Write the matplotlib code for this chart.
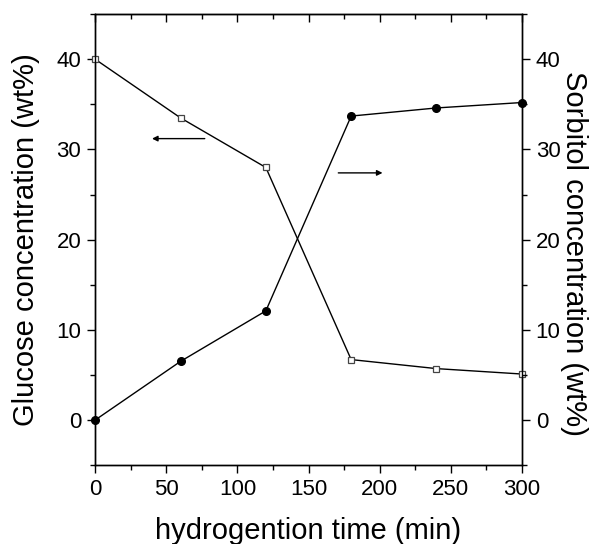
import matplotlib
matplotlib.use("Agg")
import matplotlib.pyplot as plt
from matplotlib.ticker import MultipleLocator

plt.rcParams["font.family"] = ["Liberation Sans", "DejaVu Sans"]

# ── Data ────────────────────────────────────────────────────
time_min = [0, 60, 120, 180, 240, 300]
glucose = [40.0, 33.5, 28.0, 6.7, 5.7, 5.1]
sorbitol = [0.0, 6.5, 12.1, 33.7, 34.6, 35.2]

fig = plt.figure(figsize=(5.95, 5.44), dpi=100)
ax1 = fig.add_axes([0.16, 0.145, 0.717, 0.829])
ax2 = ax1.twinx()

ax1.plot(time_min, glucose, "-", color="black", linewidth=1,
         marker="s", markersize=5, markerfacecolor="white",
         markeredgecolor="#444", markeredgewidth=0.9, clip_on=False, zorder=3)
ax2.plot(time_min, sorbitol, "-", color="black", linewidth=1,
         marker="o", markersize=5.5, markerfacecolor="black", clip_on=False, zorder=3)

for ax in (ax1, ax2):
    ax.set_xlim(0, 300)
    ax.set_ylim(-5, 45)
    ax.yaxis.set_major_locator(MultipleLocator(10))
    ax.yaxis.set_minor_locator(MultipleLocator(5))
ax1.xaxis.set_major_locator(MultipleLocator(50))
ax1.xaxis.set_minor_locator(MultipleLocator(25))
ax1.set_yticks([0, 10, 20, 30, 40])
ax2.set_yticks([0, 10, 20, 30, 40])

# left/bottom/right ticks outward, top ticks inward (Origin style)
ax1.tick_params(axis="both", which="major", direction="out", length=6, width=1,
                labelsize=16, pad=4)
ax1.tick_params(axis="both", which="minor", direction="out", length=3.5, width=1)
top = ax1.secondary_xaxis("top")
top.xaxis.set_major_locator(MultipleLocator(50))
top.xaxis.set_minor_locator(MultipleLocator(25))
top.tick_params(which="major", direction="in", length=6, width=1, labeltop=False)
top.tick_params(which="minor", direction="in", length=3.5, width=1)
ax2.tick_params(axis="y", which="major", direction="out", length=6, width=1,
                labelsize=16, pad=4)
ax2.tick_params(axis="y", which="minor", direction="out", length=3.5, width=1)
for ax in (ax1, ax2):
    for s in ax.spines.values():
        s.set_linewidth(1)

ax1.set_xlabel("hydrogention time (min)", fontsize=21, labelpad=12)
ax1.set_ylabel("Glucose concentration (wt%)", fontsize=21, labelpad=12)
ax2.set_ylabel("Sorbitol concentration (wt%)", fontsize=21, rotation=-90, labelpad=10)
ax2.yaxis.set_label_coords(1.155, 0.47)

# direction arrows
ax1.annotate("", xy=(38, 31.2), xytext=(79, 31.2),
             arrowprops=dict(arrowstyle="-|>", color="black", lw=1, mutation_scale=8))
ax1.annotate("", xy=(204, 27.4), xytext=(169, 27.4),
             arrowprops=dict(arrowstyle="-|>", color="black", lw=1, mutation_scale=8))

fig.savefig("out.png", dpi=100)
